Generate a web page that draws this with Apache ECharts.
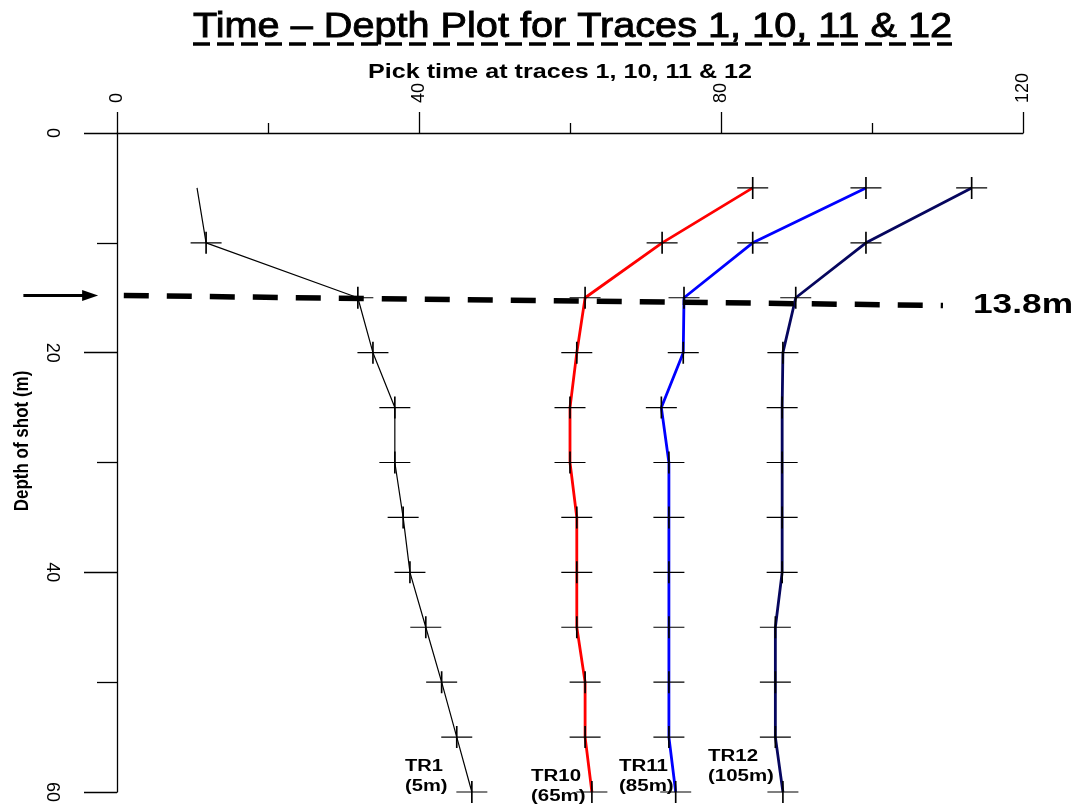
<!DOCTYPE html>
<html>
<head>
<meta charset="utf-8">
<script src="https://cdn.jsdelivr.net/npm/echarts@6/dist/echarts.min.js"></script>
<style>
html,body{margin:0;padding:0;background:#fff;}
#chart{width:1076px;height:805px;}
</style>
</head>
<body>
<div id="chart"></div>
<script>
// ---- data ----
const depths = [5, 10, 15, 20, 25, 30, 35, 40, 45, 50, 55, 60];
const tr1  = [10.6, 11.8, 31.9, 33.9, 36.8, 36.8, 37.9, 38.8, 40.9, 43.0, 45.0, 47.0];
const tr10 = [84.2, 72.2, 62.0, 60.9, 60.0, 60.0, 60.9, 60.9, 60.9, 62.0, 62.0, 62.9];
const tr11 = [99.2, 84.2, 75.1, 75.0, 72.1, 73.1, 73.1, 73.1, 73.1, 73.1, 73.1, 74.0];
const tr12 = [113.2, 99.2, 89.9, 88.2, 88.1, 88.1, 88.1, 88.1, 87.2, 87.2, 87.2, 88.2];
const xTickLabels = [0, 40, 80, 120];
const yTickLabels = [0, 20, 40, 60];
const titleText = 'Time \u2013 Depth Plot for Traces 1, 10, 11 & 12';
const xName = 'Pick time at traces 1, 10, 11 & 12';
const yName = 'Depth of shot (m)';
const markText = '13.8m';
const dashedLine = [[0.9, 14.8], [109.4, 15.7]];   // data coords (time, depth)
const arrowLine = [[-12.4, 14.8], [-2.5, 14.8]];
const traceLabels = [['TR1', '(5m)'], ['TR10', '(65m)'], ['TR11', '(85m)'], ['TR12', '(105m)']];

const FONT = '"Liberation Sans", Arial, sans-serif';
const crossPath = 'path://M0,11L31,11M15.5,0L15.5,22';

function pairs(vals) {
  return vals.map((v, i) => [v, depths[i]]);
}

const chart = echarts.init(document.getElementById('chart'), null, {renderer: 'canvas'});

function mkSeries(name, vals, color, width, skipFirstSymbol) {
  const d = pairs(vals).map((p, i) => (skipFirstSymbol && i === 0) ? {value: p, symbol: 'none'} : p);
  return {
    name: name, type: 'line', data: d, z: 3,
    symbol: crossPath, symbolSize: [31, 22], showSymbol: true,
    lineStyle: {color: color, width: width},
    itemStyle: {color: 'rgba(0,0,0,0)', borderColor: '#000', borderWidth: 1.4},
    emphasis: {disabled: true},
    clip: false
  };
}

chart.setOption({
  animation: false,
  backgroundColor: '#fff',
  grid: {left: 117, right: 53, top: 133, bottom: 7},
  xAxis: {
    type: 'value', position: 'top', min: 0, max: 120, interval: 40,
    axisLine: {show: true, onZero: false, lineStyle: {color: '#000', width: 1.3}},
    axisTick: {show: true, length: 21, lineStyle: {color: '#000', width: 1.3}},
    minorTick: {show: true, splitNumber: 2, length: 10, lineStyle: {color: '#000', width: 1.3}},
    splitLine: {show: false},
    axisLabel: {
      rotate: -90, margin: 30, color: '#000', fontSize: 18, fontFamily: FONT,
      formatter: v => xTickLabels.indexOf(v) >= 0 ? String(v) : ''
    }
  },
  yAxis: {
    type: 'value', inverse: true, min: 0, max: 60, interval: 20,
    axisLine: {show: true, onZero: false, lineStyle: {color: '#000', width: 1.3}},
    axisTick: {show: true, length: 33, lineStyle: {color: '#000', width: 1.3}},
    minorTick: {show: true, splitNumber: 2, length: 20, lineStyle: {color: '#000', width: 1.3}},
    splitLine: {show: false},
    axisLabel: {
      rotate: -90, margin: 56, color: '#000', fontSize: 18, fontFamily: FONT,
      formatter: v => yTickLabels.indexOf(v) >= 0 ? String(v) : ''
    }
  },
  series: [
    mkSeries('TR1', tr1, '#000000', 1.2, true),
    mkSeries('TR10', tr10, '#ff0000', 2.8, false),
    mkSeries('TR11', tr11, '#0000ff', 2.8, false),
    mkSeries('TR12', tr12, '#06065e', 2.8, false)
  ]
});

// ---- annotations ----
const mctx = document.createElement('canvas').getContext('2d');
function measure(text, font) { mctx.font = font; return mctx.measureText(text).width; }
function px(p) { return chart.convertToPixel({gridIndex: 0}, p); }

const g = [];
function scaledText(text, font, cx, cy, targetW, align, extra) {
  const w = measure(text, font);
  const s = targetW / w;
  g.push(Object.assign({
    type: 'text', x: cx, y: cy, scaleX: s, z: 10,
    style: {text: text, font: font, fill: '#000', align: align || 'center', verticalAlign: 'middle'}
  }, extra || {}));
}

// title + underline
const titleFont = '35px ' + FONT;
const titleL = 193, titleR = 952;
const tS = (titleR - titleL) / measure(titleText, titleFont);
g.push({type: 'text', x: titleL, y: 27, scaleX: tS, z: 10,
  style: {text: titleText, font: titleFont, fill: '#000', stroke: '#000', lineWidth: 0.9,
    align: 'left', verticalAlign: 'middle'}});
g.push({type: 'line', z: 10, shape: {x1: titleL, y1: 44, x2: titleR, y2: 44},
  style: {stroke: '#000', lineWidth: 3.5, lineDash: [17, 7]}});

// axis names
scaledText(xName, 'bold 20px ' + FONT, 560, 72, 384);
g.push({type: 'text', x: 22, y: 441, rotation: Math.PI / 2, scaleY: 1.2, z: 10,
  style: {text: yName, font: 'bold 17px ' + FONT, fill: '#000', align: 'center', verticalAlign: 'middle'}});

// 13.8m label
scaledText(markText, 'bold 28px ' + FONT, 973, 305, 100, 'left');

// trace labels
const tlPos = [[405, 767, 38], [531, 777, 50], [619, 767, 49], [708, 757, 50]];
traceLabels.forEach((t, i) => {
  const f = 'bold 16px ' + FONT;
  const s = tlPos[i][2] / measure(t[0], f);
  g.push({type: 'text', x: tlPos[i][0], y: tlPos[i][1], scaleX: s, z: 10,
    style: {text: t[0], font: f, fill: '#000', align: 'left', verticalAlign: 'middle'}});
  g.push({type: 'text', x: tlPos[i][0], y: tlPos[i][1] + 20, scaleX: s, z: 10,
    style: {text: t[1], font: f, fill: '#000', align: 'left', verticalAlign: 'middle'}});
});

// dashed depth line
const d0 = px(dashedLine[0]), d1 = px(dashedLine[1]);
g.push({type: 'line', z: 8, shape: {x1: d0[0], y1: d0[1], x2: d1[0], y2: d1[1]},
  style: {stroke: '#000', lineWidth: 5.5, lineDash: [25, 18]}});

// arrow
const a0 = px(arrowLine[0]), a1 = px(arrowLine[1]);
g.push({type: 'line', z: 8, shape: {x1: a0[0], y1: a0[1], x2: a1[0] - 10, y2: a1[1]},
  style: {stroke: '#000', lineWidth: 3}});
g.push({type: 'polygon', z: 8, shape: {points: [[a1[0], a1[1]], [a1[0] - 16, a1[1] - 5.5], [a1[0] - 16, a1[1] + 5.5]]},
  style: {fill: '#000'}});

chart.setOption({graphic: g});
</script>
</body>
</html>
